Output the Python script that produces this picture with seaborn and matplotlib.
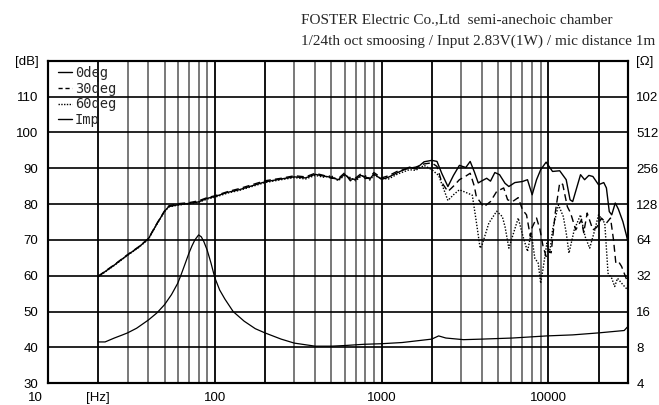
import numpy as np
import pandas as pd
import matplotlib
matplotlib.use("Agg")
import matplotlib.pyplot as plt
import matplotlib.transforms as mtransforms
import seaborn as sns
from matplotlib.ticker import FixedLocator, FixedFormatter, NullFormatter
from matplotlib.lines import Line2D

# on-axis SPL [dB]
freq_0 = [20, 25, 30, 35, 40, 45, 50, 53, 60, 70, 80, 90, 100, 120, 140, 170,
          200, 250, 300, 350, 400, 450, 500, 550, 600, 650, 700, 750, 800, 850,
          900, 1000, 1100, 1250, 1470, 1600, 1800, 2000, 2150, 2300, 2500, 2700,
          2930, 3200, 3400, 3600, 3800, 4000, 4270, 4500, 4780, 5100, 5500, 5800,
          6300, 7000, 7500, 8000, 8500, 9000, 9700, 10600, 11700, 12800, 13500,
          14000, 15600, 16500, 17500, 18500, 20000, 21500, 22300, 23200, 24000,
          25200, 26300, 28000, 29500, 30000]
spl_0 = [59.8, 63.0, 65.8, 68.0, 70.3, 74.5, 78.0, 79.3, 79.8, 80.2, 80.6, 81.6,
         82.1, 83.3, 84.0, 85.2, 86.2, 87.0, 87.6, 87.3, 88.3, 87.8, 87.5, 86.8,
         88.3, 87.0, 86.9, 88.0, 87.6, 87.0, 88.4, 86.9, 87.5, 88.8, 90.3, 89.8,
         91.8, 92.2, 91.9, 88.5, 84.9, 88.0, 90.8, 90.2, 91.9, 89.0, 85.9, 86.5,
         87.2, 86.4, 88.8, 88.2, 85.8, 84.9, 86.0, 86.3, 86.8, 82.6, 86.8, 89.6,
         91.7, 89.1, 89.3, 86.8, 81.2, 80.7, 88.2, 86.8, 88.0, 87.7, 85.4, 86.0,
         84.5, 77.9, 77.0, 80.3, 78.6, 75.1, 71.0, 69.5]

# 30 deg SPL [dB]
freq_30 = [20, 25, 30, 35, 40, 45, 50, 53, 60, 70, 80, 90, 100, 120, 140, 170,
           200, 250, 300, 350, 400, 450, 500, 550, 600, 650, 700, 750, 800, 850,
           900, 1000, 1100, 1250, 1470, 1600, 1800, 2000, 2150, 2300, 2500, 2700,
           2930, 3200, 3400, 3600, 3700, 4100, 4500, 4900, 5400, 5700, 6100, 6600,
           7000, 7400, 7800, 8000, 8500, 8900, 9300, 9700, 10000, 10400, 11000,
           11700, 12200, 13000, 13600, 14600, 15800, 16300, 17100, 18500, 19500,
           20800, 22300, 23600, 24600, 25400, 26500, 27500, 29000, 30000]
spl_30 = [59.9, 63.1, 65.9, 68.1, 70.4, 74.6, 78.1, 79.5, 80.1, 80.4, 80.9, 81.8,
          82.3, 83.5, 84.3, 85.5, 86.5, 87.2, 87.9, 87.6, 88.6, 88.0, 87.2, 87.1,
          88.7, 86.5, 87.3, 88.4, 87.1, 87.4, 88.8, 87.3, 87.9, 89.2, 90.0, 90.3,
          91.2, 91.5, 90.5, 86.0, 83.5, 85.0, 86.8, 87.8, 88.6, 85.0, 82.1, 79.2,
          80.7, 83.5, 84.5, 81.2, 80.7, 81.8, 78.4, 77.0, 71.0, 73.5, 76.1, 73.0,
          68.2, 65.4, 67.0, 66.4, 77.5, 85.9, 85.5, 79.3, 77.5, 72.8, 75.6, 72.0,
          77.5, 72.8, 73.5, 76.1, 74.7, 76.1, 70.0, 63.5, 63.8, 62.6, 59.8, 58.0]

# 60 deg SPL [dB]
freq_60 = [20, 25, 30, 35, 40, 45, 50, 53, 60, 70, 80, 90, 100, 120, 140, 170,
           200, 250, 300, 350, 400, 450, 500, 550, 600, 650, 700, 750, 800, 850,
           900, 1000, 1100, 1250, 1470, 1600, 1800, 2000, 2200, 2500, 2700, 2930,
           3300, 3500, 3700, 3900, 4000, 4400, 4900, 5300, 5500, 5800, 6100, 6600,
           7000, 7500, 7900, 8300, 8700, 9000, 9300, 9800, 10200, 10600, 11500,
           12300, 12800, 13300, 14300, 15600, 16600, 17700, 19000, 20000, 21800,
           22800, 24000, 25000, 26000, 28000, 30000]
spl_60 = [59.7, 62.9, 65.7, 67.9, 70.2, 74.4, 77.9, 79.2, 79.7, 80.1, 80.5, 81.4,
          81.9, 83.1, 83.8, 85.0, 86.0, 86.8, 87.4, 87.0, 88.0, 87.5, 87.9, 86.5,
          88.0, 87.4, 86.5, 87.7, 87.9, 86.7, 88.0, 87.2, 87.0, 88.4, 89.6, 89.4,
          90.8, 89.6, 88.0, 81.0, 82.6, 84.0, 83.0, 82.5, 75.1, 67.7, 68.5, 74.7,
          78.0, 76.5, 73.7, 67.7, 71.0, 76.1, 71.5, 66.8, 71.9, 64.9, 63.5, 57.9,
          62.0, 69.1, 66.5, 72.8, 79.8, 76.5, 72.0, 66.3, 72.8, 77.0, 71.0, 67.7,
          72.8, 77.0, 74.7, 60.7, 59.3, 57.0, 59.3, 57.5, 56.0]

# impedance [ohm]
freq_imp = [20, 22, 25, 28, 30, 34, 40, 45, 50, 55, 60, 63, 66, 70, 73, 76, 80,
            83, 86, 90, 95, 100, 107, 115, 129, 150, 175, 200, 250, 300, 400, 500,
            600, 780, 1000, 1330, 2000, 2200, 2430, 3100, 4000, 6100, 9800, 14000,
            20000, 28500, 30000]
imp = [8.9, 8.9, 9.6, 10.2, 10.6, 11.6, 13.6, 15.6, 18.3, 22.2, 27.7, 33.0,
       39.4, 49.5, 57.0, 64.0, 70.5, 68.0, 62.0, 52.7, 40.8, 30.9, 24.3, 20.4,
       16.0, 13.3, 11.5, 10.6, 9.4, 8.7, 8.2, 8.2, 8.3, 8.5, 8.6, 8.8, 9.4, 10.0,
       9.6, 9.3, 9.4, 9.6, 10.0, 10.2, 10.6, 11.1, 12.0]

spl = pd.concat([
    pd.DataFrame({"freq": freq_0, "spl": spl_0, "angle": "0deg"}),
    pd.DataFrame({"freq": freq_30, "spl": spl_30, "angle": "30deg"}),
    pd.DataFrame({"freq": freq_60, "spl": spl_60, "angle": "60deg"}),
])
imp_df = pd.DataFrame({"freq": freq_imp, "imp": imp})

sns.set_style("white")
plt.rcParams["font.family"] = ["Liberation Sans", "DejaVu Sans"]

fig = plt.figure(figsize=(6.59, 4.05), dpi=100)
ax = fig.add_axes([0.0728, 0.0536, 0.880, 0.7965])
ax.set_xscale("log")
ax.set_xlim(10, 30000)
ax.set_ylim(30, 120)

dash_styles = {"0deg": "", "30deg": (5, 3), "60deg": (1, 1.2)}
sns.lineplot(data=spl, x="freq", y="spl", style="angle", dashes=dash_styles,
             color="black", linewidth=1.0, estimator=None, sort=False,
             legend=False, ax=ax)

ax2 = ax.twinx()
ax2.set_yscale("log", base=2)
ax2.set_ylim(4, 2048)
sns.lineplot(data=imp_df, x="freq", y="imp", color="black", linewidth=0.9,
             estimator=None, legend=False, ax=ax2)

# x grid: decades and 2x lines dark, others grey
ax.xaxis.set_major_locator(FixedLocator([10, 20, 100, 200, 1000, 2000, 10000, 20000]))
ax.xaxis.set_major_formatter(FixedFormatter(["10", "[Hz]", "100", "", "1000", "", "10000", ""]))
minor = [m * d for d in (10, 100, 1000) for m in range(3, 10)]
ax.xaxis.set_minor_locator(FixedLocator(minor))
ax.xaxis.set_minor_formatter(NullFormatter())
ax.grid(True, axis="x", which="major", color="black", linewidth=1.3)
ax.grid(True, axis="x", which="minor", color="#6e6e6e", linewidth=1.3)

ax.set_yticks(list(range(30, 121, 10)))
ax.set_yticklabels(["30", "40", "50", "60", "70", "80", "90", "100", "110", "[dB]"])
ax.grid(True, axis="y", which="major", color="black", linewidth=1.2)

ax2.set_yticks([4, 8, 16, 32, 64, 128, 256, 512, 1024, 2048])
ax2.set_yticklabels(["4", "8", "16", "32", "64", "128", "256", "512", "102", "[Ω]"])
ax2.yaxis.set_minor_locator(FixedLocator([]))

for a in (ax, ax2):
    a.set_xlabel("")
    a.set_ylabel("")
    a.tick_params(length=0, labelsize=9.5, colors="black")
    for s in a.spines.values():
        s.set_color("black")
        s.set_linewidth(1.5)
ax.tick_params(axis="x", pad=6)
ax.tick_params(axis="y", pad=7)
ax2.tick_params(axis="y", pad=6)

# the "10" label sits left of the axis edge in the original
first = ax.xaxis.get_major_ticks()[0].label1
first.set_transform(first.get_transform() +
                    mtransforms.ScaledTranslation(-13 / 100, 0, fig.dpi_scale_trans))

handles = [
    Line2D([], [], color="black", lw=1.0, linestyle="-"),
    Line2D([], [], color="black", lw=1.0, dashes=(3, 2)),
    Line2D([], [], color="black", lw=1.0, dashes=(1, 1)),
    Line2D([], [], color="black", lw=1.0, linestyle="-"),
]
ax2.legend(handles, ["0deg", "30deg", "60deg", "Imp"], loc="upper left",
           bbox_to_anchor=(0.012, 0.992), frameon=False, handlelength=1.05,
           handletextpad=0.2, labelspacing=0.12, borderaxespad=0, borderpad=0.2,
           prop={"family": "DejaVu Sans Mono", "size": 9.8})

fig.text(0.457, 0.951, "FOSTER Electric Co.,Ltd  semi-anechoic chamber",
         family="Liberation Serif", fontsize=11, ha="left", va="center")
fig.text(0.457, 0.899, "1/24th oct smoosing / Input 2.83V(1W) / mic distance 1m",
         family="Liberation Serif", fontsize=11, ha="left", va="center")

fig.savefig("out.png", dpi=100)
